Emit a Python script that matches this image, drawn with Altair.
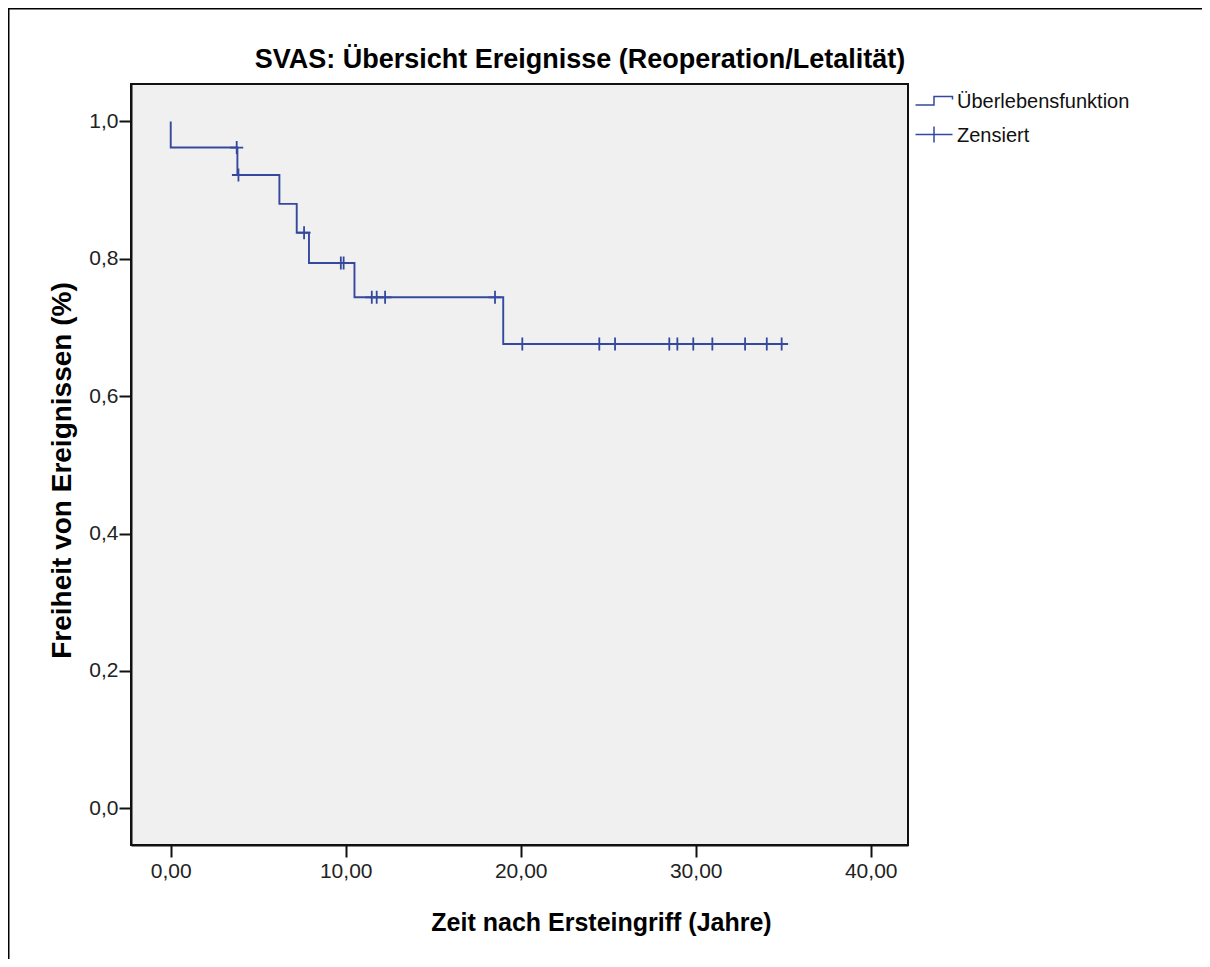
import altair as alt
import pandas as pd

# ---- data ----
step_time = [0.0, 0.0, 3.81, 6.21, 7.20, 7.90, 10.50, 19.00, 34.91]
step_surv = [1.000, 0.962, 0.922, 0.880, 0.838, 0.794, 0.744, 0.676, 0.676]

cens_time = [3.77, 3.87, 7.62, 9.72, 9.88, 11.49, 11.77, 12.25, 18.53,
             20.09, 24.49, 25.39, 28.49, 28.95, 29.86, 30.95, 32.82, 34.06, 34.91]
cens_surv = [0.962, 0.922, 0.838, 0.794, 0.794, 0.744, 0.744, 0.744, 0.744,
             0.676, 0.676, 0.676, 0.676, 0.676, 0.676, 0.676, 0.676, 0.676, 0.676]

x_ticks = [0, 10, 20, 30, 40]
y_ticks = [0.0, 0.2, 0.4, 0.6, 0.8, 1.0]
legend_labels = ["Überlebensfunktion", "Zensiert"]

title_text = "SVAS: Übersicht Ereignisse (Reoperation/Letalität)"
x_title = "Zeit nach Ersteingriff (Jahre)"
y_title = "Freiheit von Ereignissen (%)"

# ---- styling ----
BLUE = "#34489E"
FONT = "Liberation Sans"
W, H = 777, 761
PAD_L, PAD_T, PAD_R, PAD_B = 123, 76, 294, 114

step_df = pd.DataFrame({"idx": list(range(len(step_time))), "t": step_time, "s": step_surv})
cens_df = pd.DataFrame({"t": cens_time, "s": cens_surv})

x_scale = alt.Scale(domain=[-2.27, 42.13], nice=False, zero=False)
y_scale = alt.Scale(domain=[-0.0533, 1.0545], nice=False, zero=False)

x_axis = alt.Axis(
    values=x_ticks, labelExpr="replace(format(datum.value, '.2f'), '.', ',')",
    title=x_title, grid=False, domainColor="#111", domainWidth=2,
    tickColor="#111", tickWidth=2, tickSize=12, labelFont=FONT, labelFontSize=21,
    labelColor="#222", labelPadding=3, titleFont=FONT, titleFontSize=25,
    titleFontWeight="bold", titleColor="black", titleX=470, titleY=77,
    titleAlign="center", titleBaseline="middle",
)
y_axis = alt.Axis(
    values=y_ticks, labelExpr="replace(format(datum.value, '.1f'), '.', ',')",
    title=y_title, grid=False, domainColor="#111", domainWidth=2,
    tickColor="#111", tickWidth=2, tickSize=12, labelFont=FONT, labelFontSize=21,
    labelColor="#222", labelPadding=1, titleFont=FONT, titleFontSize=28,
    titleFontWeight="bold", titleColor="black", titleX=-69, titleY=386,
    titleAlign="center", titleBaseline="middle", titleAngle=270,
)

line = alt.Chart(step_df).mark_line(
    interpolate="step-after", color=BLUE, strokeWidth=1.9
).encode(
    x=alt.X("t:Q", scale=x_scale, axis=x_axis),
    y=alt.Y("s:Q", scale=y_scale, axis=y_axis),
    order=alt.Order("idx:Q"),
)

cross_path = "M-1,0L1,0M0,-1L0,1"
cens = alt.Chart(cens_df).mark_point(
    shape=cross_path, size=169, filled=False, color=BLUE, strokeWidth=1.8, opacity=1
).encode(x="t:Q", y="s:Q")

step_sym = "M-1.85,0.3L0,0.3L0,-0.55L1.85,-0.55L1.85,-0.25"
cross_sym = "M-1.85,-0.15L1.85,-0.15M0,-0.95L0,0.65"
legend_layer = alt.Chart(alt.Data(values=[])).mark_point(
    filled=False, color=BLUE, strokeWidth=1.5, opacity=1
).encode(
    shape=alt.Shape(
        "kind:N",
        scale=alt.Scale(domain=legend_labels, range=[step_sym, cross_sym]),
        legend=alt.Legend(
            title=None, orient="none", legendX=792, legendY=7, padding=0,
            symbolSize=400, symbolStrokeWidth=1.5, symbolStrokeColor=BLUE,
            labelFont=FONT, labelFontSize=20, labelColor="#111", labelLimit=400,
            labelOffset=12, rowPadding=11,
        ),
    )
)

title_layer = alt.Chart(pd.DataFrame({"label": [title_text]})).mark_text(
    font=FONT, fontSize=27, fontWeight="bold", color="black",
    align="center", baseline="middle",
).encode(text="label:N", x=alt.value(449), y=alt.value(-24))

frame_df = pd.DataFrame({"k": [0]})
left_border = alt.Chart(frame_df).mark_rule(color="black", strokeWidth=1.5).encode(
    x=alt.value(-PAD_L + 0.75), y=alt.value(-PAD_T), y2=alt.value(H + PAD_B)
)
top_border = alt.Chart(frame_df).mark_rule(color="black", strokeWidth=1.5).encode(
    y=alt.value(-PAD_T + 0.75), x=alt.value(-PAD_L), x2=alt.value(W + PAD_R)
)

chart = alt.layer(line, cens, legend_layer, title_layer, left_border, top_border).properties(
    width=W, height=H,
    autosize=alt.AutoSizeParams(type="none"),
    padding={"left": PAD_L, "top": PAD_T, "right": PAD_R, "bottom": PAD_B},
    background="white",
    view=alt.ViewBackground(fill="#F0F0F0", stroke="#111", strokeWidth=2),
).configure_view(
    fill="#F0F0F0", stroke="#111", strokeWidth=2
)

chart.save("out.html", embed_options={"renderer": "svg", "actions": False})
